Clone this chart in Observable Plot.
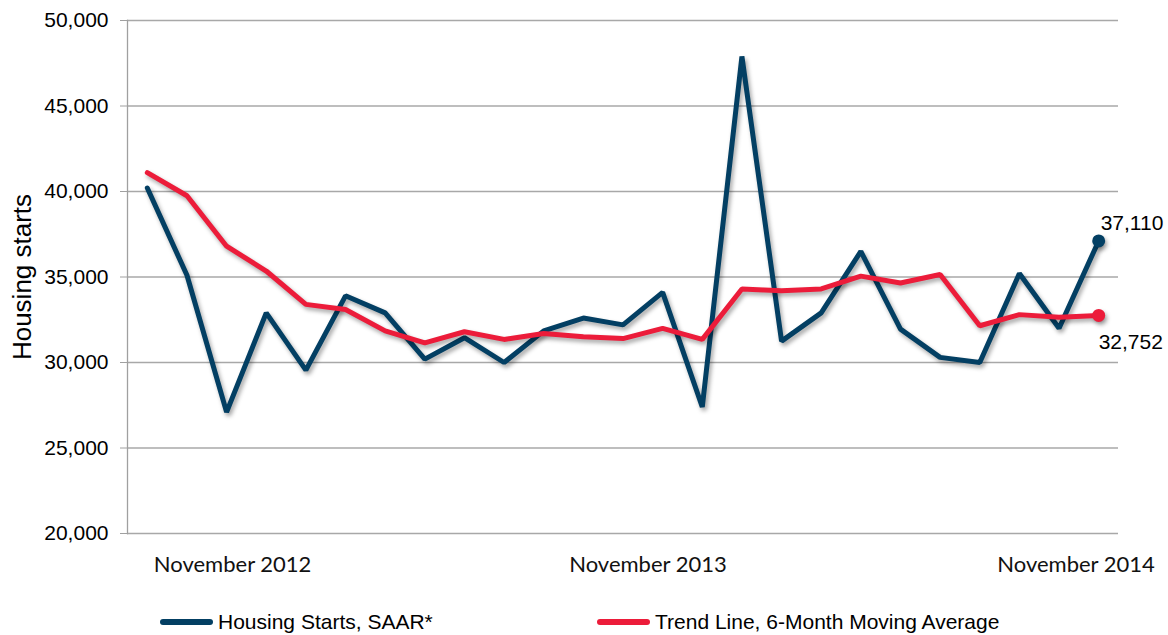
<!DOCTYPE html>
<html>
<head>
<meta charset="utf-8">
<script src="https://cdn.jsdelivr.net/npm/d3@7"></script>
<script src="https://cdn.jsdelivr.net/npm/@observablehq/plot@0.6"></script>
<style>
  html, body { margin: 0; padding: 0; background: #fff; }
  #wrap { width: 1168px; height: 635px; position: relative; overflow: hidden; }
  svg [aria-label="line"] path { filter: drop-shadow(2px 3px 2px rgba(0,0,0,0.35)); }
  svg [aria-label="dot"] circle { filter: drop-shadow(2px 3px 2px rgba(0,0,0,0.35)); }
  #legend { position: relative; width: 1168px; height: 45px; font-family: "Liberation Sans", Arial, sans-serif; font-size: 21px; color: #000; }
  .item { position: absolute; top: 20px; display: flex; align-items: center; height: 24px; }
  .sw { width: 53px; height: 6px; border-radius: 3px; margin-right: 5px; }
</style>
</head>
<body>
<div id="wrap">
  <div id="chart"></div>
  <div id="legend"></div>
</div>
<script>
const months = ["Nov 2012","Dec 2012","Jan 2013","Feb 2013","Mar 2013","Apr 2013","May 2013","Jun 2013","Jul 2013","Aug 2013","Sep 2013","Oct 2013","Nov 2013","Dec 2013","Jan 2014","Feb 2014","Mar 2014","Apr 2014","May 2014","Jun 2014","Jul 2014","Aug 2014","Sep 2014","Oct 2014","Nov 2014"];
const starts = [40200,35100,27100,32900,29550,33900,32900,30200,31450,30000,31850,32600,32200,34100,27400,47900,31250,32900,36500,31950,30300,30000,35200,32000,37110];
const trend = [41100,39750,36800,35350,33400,33100,31850,31150,31800,31350,31700,31500,31400,32000,31350,34300,34200,34300,35050,34650,35150,32150,32800,32650,32752];
const yTicks = [20000,25000,30000,35000,40000,45000,50000];
const xLabelText = ["November 2012","November 2013","November 2014"];
const xLabelMonth = ["Jan 2013","Nov 2013","Oct 2014"];
const seriesNames = ["Housing Starts, SAAR*","Trend Line, 6-Month Moving Average"];
const seriesColors = ["#033f63","#ec1c3a"];
const yLabel = "Housing starts";

const startsData = months.map((m, i) => ({month: m, value: starts[i]}));
const trendData = months.map((m, i) => ({month: m, value: trend[i]}));
const lastStart = startsData[startsData.length - 1];
const lastTrend = trendData[trendData.length - 1];
const fmt = d3.format(",");
const xOffsets = [6, 25, 17];

const chart = Plot.plot({
  width: 1168,
  height: 590,
  marginLeft: 127,
  marginRight: 50,
  marginTop: 20,
  marginBottom: 57,
  style: {fontFamily: "'Liberation Sans', Arial, sans-serif", fontSize: "21px", color: "#000", background: "#fff", overflow: "visible"},
  x: {type: "point", domain: months, padding: 0.5, round: false, axis: null},
  y: {domain: [20000, 50000]},
  marks: [
    Plot.gridY({ticks: yTicks, stroke: "#a8a8a8", strokeOpacity: 1, strokeWidth: 1.3}),
    Plot.frame({anchor: "left", stroke: "#a0a0a0", strokeWidth: 1.3}),
    Plot.axisY({ticks: yTicks, tickFormat: fmt, tickSize: 7, tickPadding: 12, stroke: "#a0a0a0", fill: "#000", fontSize: 21, label: null}),
    Plot.text([yLabel], {frameAnchor: "left", textAnchor: "middle", lineAnchor: "middle", rotate: -90, dx: -105, fontSize: 26, fill: "#000"}),
    ...xLabelText.map((t, i) => Plot.text([t], {x: () => xLabelMonth[i], frameAnchor: "bottom", lineAnchor: "middle", dy: 31, dx: xOffsets[i], fontFamily: "Lato, 'Open Sans', sans-serif", fontSize: 22, fill: "#111"})),
    Plot.line(startsData, {x: "month", y: "value", stroke: seriesColors[0], strokeWidth: 5, strokeLinejoin: "miter", strokeLinecap: "round"}),
    Plot.line(trendData, {x: "month", y: "value", stroke: seriesColors[1], strokeWidth: 5, strokeLinejoin: "miter", strokeLinecap: "round"}),
    Plot.dot([lastStart], {x: "month", y: "value", r: 6.5, fill: seriesColors[0]}),
    Plot.dot([lastTrend], {x: "month", y: "value", r: 6.5, fill: seriesColors[1]}),
    Plot.text([lastStart], {x: "month", y: "value", text: d => fmt(d.value), textAnchor: "start", dx: 2, dy: -18, fontSize: 21, fill: "#000"}),
    Plot.text([lastTrend], {x: "month", y: "value", text: d => fmt(d.value), textAnchor: "start", dx: 0, dy: 27, fontSize: 21, fill: "#000"})
  ]
});
document.getElementById("chart").appendChild(chart);

const legend = document.getElementById("legend");
const lefts = [160, 597];
seriesNames.forEach((name, i) => {
  const item = document.createElement("div");
  item.className = "item";
  item.style.left = lefts[i] + "px";
  const sw = document.createElement("span");
  sw.className = "sw";
  sw.style.background = seriesColors[i];
  const tx = document.createElement("span");
  tx.textContent = name;
  item.appendChild(sw);
  item.appendChild(tx);
  legend.appendChild(item);
});
</script>
</body>
</html>
